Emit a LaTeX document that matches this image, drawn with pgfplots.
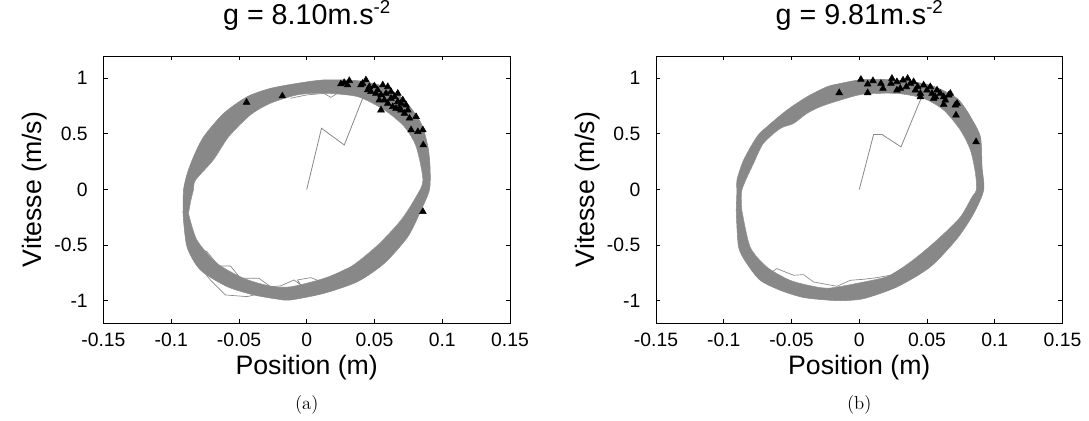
\documentclass[border=0pt]{standalone}
\usepackage{fontspec}
\usepackage{pgfplots}
\pgfplotsset{compat=1.18}
\newfontfamily\arial{Liberation Sans}
\definecolor{gnugray}{RGB}{136,136,136}
\newcommand{\sups}[1]{\raisebox{8pt}{\fontsize{14}{14}\selectfont #1}}

\pgfplotsset{
  phase/.style={
    scale only axis, width=304.9pt, height=200.25pt,
    xmin=-0.15, xmax=0.15, ymin=-1.2, ymax=1.2,
    xtick={-0.15,-0.1,-0.05,0,0.05,0.1,0.15},
    xticklabels={-0.15,-0.1,-0.05,0,0.05,0.1,0.15},
    ytick={-1,-0.5,0,0.5,1},
    yticklabels={-1,-0.5,0,0.5,1},
    tick align=inside, major tick length=3.2pt,
    axis line style={line width=0.7pt},
    every tick/.style={black, line width=0.6pt},
    tick label style={font=\arial\fontsize{14.5}{17}\selectfont},
    xticklabel style={anchor=base, inner sep=0pt, yshift=-18pt},
    yticklabel style={anchor=east, inner sep=0pt, xshift=-11.6pt},
    label style={font=\arial\fontsize{20}{24}\selectfont},
    title style={font=\arial\fontsize{21.5}{24}\selectfont, inner sep=0pt, at={(0.5,1.088)}, anchor=base},
    xlabel={Position (m)}, ylabel={Vitesse (m/s)},
    xlabel style={at={(axis description cs:0.5,-0.1685)}, anchor=center},
    ylabel style={at={(axis description cs:-0.1685,0.5)}, anchor=center},
    clip=false,
  },
  band/.style={smooth, tension=0.45, fill=gnugray, draw=gnugray, line width=0.4pt},
  hole/.style={smooth, tension=0.45, fill=white, draw=gnugray, line width=0.3pt},
  stray/.style={gnugray, line width=0.5pt},
  tri/.style={only marks, mark=triangle*, mark size=2.9pt, mark options={fill=black, draw=black}},
}

\begin{document}
\begin{tikzpicture}
\useasboundingbox (0,0) rectangle (816.75pt,315.75pt);

% ---------------- panel (a) ----------------
\begin{axis}[phase, at={(77.6pt,73.5pt)}, anchor=south west,
  title={g = 8.10m.s\sups{-2}}]
\addplot[band] coordinates {
(-0.0913,-0.215) (-0.0909,0.0) (-0.0880,0.15) (-0.0835,0.295) (-0.0760,0.475)
(-0.0612,0.685) (-0.0439,0.834) (-0.0267,0.909) (-0.0069,0.954) (0.0128,0.985)
(0.0375,0.978) (0.0573,0.924) (0.0720,0.804) (0.0844,0.595) (0.0894,0.385)
(0.0910,0.2) (0.0906,0.0) (0.0844,-0.184) (0.0746,-0.424) (0.0573,-0.663)
(0.0375,-0.828) (0.0128,-0.933) (-0.0119,-0.993) (-0.0217,-0.985) (-0.0390,-0.948)
(-0.0587,-0.873) (-0.0785,-0.723) (-0.0884,-0.514) (-0.0913,-0.215)
} -- cycle;
\addplot[hole] coordinates {
(-0.0872,-0.215) (-0.0855,-0.1) (-0.0835,0.0) (-0.0820,0.085) (-0.0689,0.265)
(-0.0575,0.475) (-0.0415,0.67) (-0.0267,0.775) (-0.0069,0.85) (0.0128,0.865)
(0.0375,0.834) (0.0573,0.714) (0.0720,0.564) (0.0807,0.385) (0.0857,0.085)
(0.0807,-0.064) (0.0696,-0.274) (0.0524,-0.499) (0.0326,-0.693) (0.0128,-0.798)
(-0.0119,-0.874) (-0.0267,-0.868) (-0.0464,-0.798) (-0.0662,-0.663) (-0.0810,-0.454)
(-0.0872,-0.215)
} -- cycle;
% stray trajectories
\addplot[stray] coordinates {
(-0.0847,-0.499) (-0.0736,-0.559) (-0.065,-0.687) (-0.0563,-0.687) (-0.0489,-0.798)
(-0.0353,-0.798) (-0.0267,-0.873) (-0.0193,-0.867) (-0.0094,-0.813) (-0.0044,-0.858)
(-0.0069,-0.813) (0.003,-0.792) (0.0104,-0.828) (0.0276,-0.723) (0.035,-0.687)
};
\addplot[stray] coordinates {
(-0.081,-0.663) (-0.0711,-0.813) (-0.060,-0.948) (-0.0439,-0.963) (-0.0341,-0.933)
(-0.0267,-0.903) (-0.0168,-0.985) (-0.0044,-0.933) (0.010,-0.90)
};
\addplot[stray] coordinates {
(-0.012,0.82) (0.0,0.85) (0.0128,0.864) (0.0178,0.828) (0.0227,0.864) (0.035,0.85)
};
% transient
\addplot[gnugray, line width=0.6pt] coordinates {
(0,0) (0.0109,0.55) (0.0277,0.40) (0.0413,0.82) (0.046,0.88)
};
% Poincare section points
\addplot[tri] coordinates {
(0.0252,0.948) (0.0276,0.960) (0.0314,0.978) (0.0301,0.939) (0.040,0.939)
(0.0437,0.984) (0.0412,0.954) (0.0462,0.924) (0.0499,0.930) (0.0523,0.894)
(0.0561,0.939) (0.0598,0.924) (0.0474,0.879) (0.0511,0.864) (0.0548,0.849)
(0.0585,0.864) (0.0622,0.879) (0.0622,0.819) (0.0647,0.834) (0.0672,0.864)
(0.0672,0.789) (0.0696,0.774) (0.0709,0.804) (0.0733,0.759) (0.0696,0.714)
(0.0721,0.684) (0.0746,0.714) (0.0758,0.640) (0.0548,0.714) (0.0807,0.654)
(0.0770,0.535) (0.0820,0.519) (0.0857,0.535) (0.0573,0.804) (0.0598,0.774)
(0.0635,0.744) (0.0659,0.729) (0.0684,0.729) (0.0450,0.894) (0.0536,0.804)
(-0.0444,0.783) (-0.0180,0.840) (0.0857,-0.199) (0.0860,0.400)
};
\node[font=\fontsize{14}{16}\selectfont] at (rel axis cs:0.5,-0.307) {(a)};
\end{axis}

% ---------------- panel (b) ----------------
\begin{axis}[phase, at={(492pt,73.5pt)}, anchor=south west,
  title={g = 9.81m.s\sups{-2}}]
\addplot[band] coordinates {
(-0.0908,-0.186) (-0.0903,-0.006) (-0.0903,0.084) (-0.0854,0.263) (-0.0756,0.473)
(-0.0682,0.563) (-0.0534,0.713) (-0.0386,0.833) (-0.0239,0.923) (-0.0140,0.953)
(0.0032,0.989) (0.0278,0.983) (0.0524,0.938) (0.0722,0.818) (0.0820,0.653)
(0.0894,0.473) (0.0906,0.203) (0.0918,-0.006) (0.0844,-0.216) (0.0722,-0.441)
(0.0524,-0.696) (0.0278,-0.876) (0.0032,-0.981) (-0.0140,-1.0) (-0.0214,-0.996)
(-0.0411,-0.971) (-0.0583,-0.906) (-0.0731,-0.816) (-0.0829,-0.666) (-0.0891,-0.516)
(-0.0908,-0.186)
} -- cycle;
\addplot[hole] coordinates {
(-0.0866,-0.186) (-0.0866,-0.006) (-0.0780,0.234) (-0.0707,0.414) (-0.0583,0.548)
(-0.0485,0.593) (-0.0386,0.683) (-0.0288,0.743) (-0.0140,0.803) (0.0032,0.857)
(0.0278,0.863) (0.0475,0.818) (0.0623,0.713) (0.0746,0.533) (0.0820,0.353)
(0.0857,0.144) (0.0864,-0.006) (0.0832,-0.066) (0.0746,-0.246) (0.0598,-0.426)
(0.0426,-0.606) (0.0229,-0.771) (0.0032,-0.831) (-0.0214,-0.885) (-0.0338,-0.870)
(-0.0510,-0.816) (-0.0682,-0.696) (-0.0805,-0.516) (-0.0866,-0.186)
} -- cycle;
\addplot[stray] coordinates {
(-0.0731,-0.816) (-0.0608,-0.711) (-0.0485,-0.771) (-0.0411,-0.765) (-0.0338,-0.831)
(-0.0165,-0.870) (-0.0066,-0.816) (0.0032,-0.807) (0.0131,-0.792) (0.0229,-0.771)
(0.0377,-0.666) (0.0487,-0.552) (0.0574,-0.471) (0.0611,-0.501)
};
\addplot[stray] coordinates {
(0.0524,0.938) (0.0758,0.758) (0.0807,0.683) (0.0830,0.62)
};
\addplot[gnugray, line width=0.6pt] coordinates {
(0,0) (0.0106,0.495) (0.0167,0.495) (0.0308,0.383) (0.0445,0.788) (0.047,0.85)
};
\addplot[tri] coordinates {
(-0.0148,0.869) (0.0012,0.989) (0.0062,0.869) (0.0062,0.947) (0.0101,0.977)
(0.0160,0.953) (0.0175,0.908) (0.0241,0.998) (0.0234,0.953) (0.0278,0.968)
(0.0303,0.908) (0.0323,0.983) (0.0357,0.998) (0.0377,0.953) (0.0347,0.923)
(0.0401,0.968) (0.0431,0.923) (0.0414,0.893) (0.0451,0.863) (0.0475,0.938)
(0.0500,0.893) (0.0524,0.923) (0.0537,0.863) (0.0561,0.833) (0.0574,0.893)
(0.0598,0.863) (0.0623,0.833) (0.0635,0.803) (0.0660,0.848) (0.0672,0.863)
(0.0623,0.764) (0.0709,0.758) (0.0722,0.773) (0.0714,0.668) (0.0862,0.428)
(0.0451,0.833) (0.0549,0.818) (0.0278,0.893)
};
\node[font=\fontsize{14}{16}\selectfont] at (rel axis cs:0.5,-0.307) {(b)};
\end{axis}
\end{tikzpicture}
\end{document}
